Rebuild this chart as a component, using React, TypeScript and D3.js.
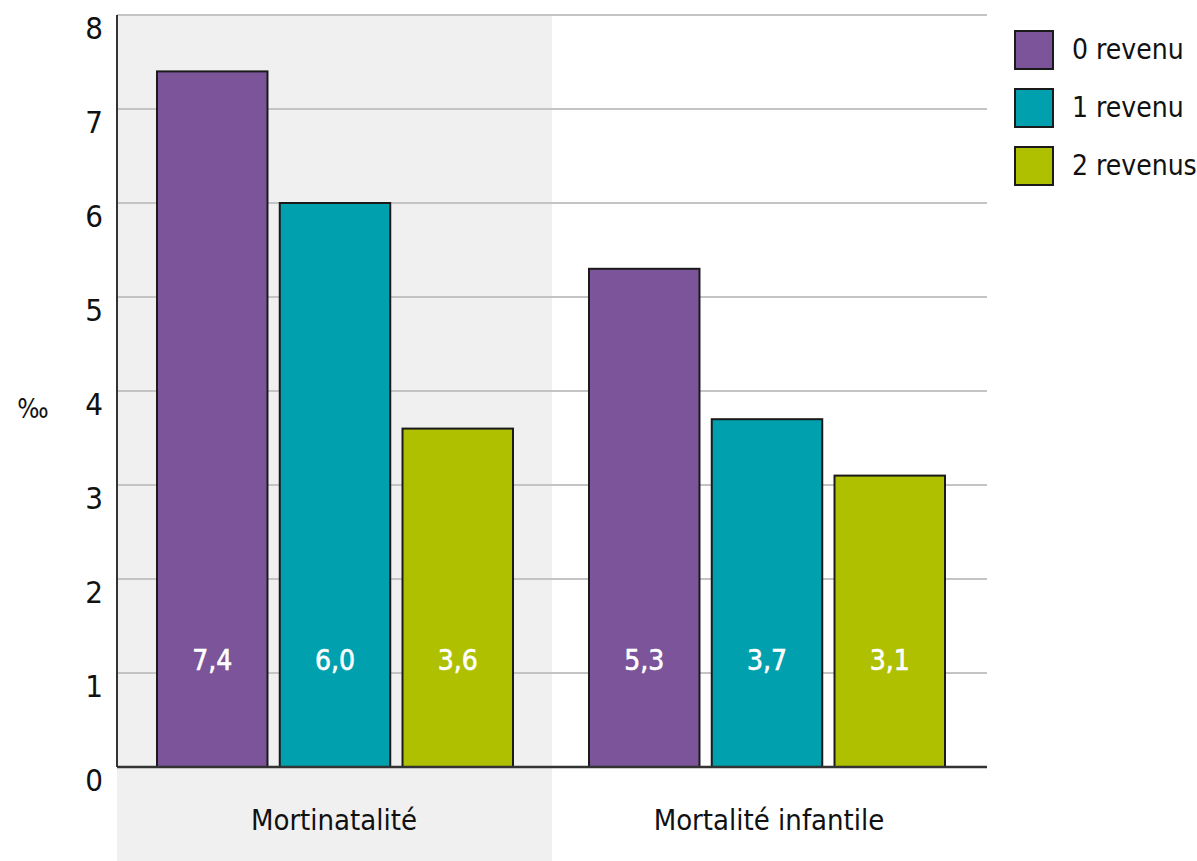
import React from "react";
import * as d3 from "d3";

const categories = ["Mortinatalité", "Mortalité infantile"];
const series = ["0 revenu", "1 revenu", "2 revenus"];
const values = [
  [7.4, 6.0, 3.6],
  [5.3, 3.7, 3.1],
];
const yTicks = [0, 1, 2, 3, 4, 5, 6, 7, 8];
const colors = ["#7B5499", "#00A0AE", "#AEC000"];

const W = 1197;
const H = 861;
const m = { left: 117, right: 987, top: 15, bottom: 767 };
const FONT = "'Liberation Sans Narrow', 'DejaVu Sans Condensed', 'Roboto Condensed', sans-serif";

export default function App() {
  const y = d3.scaleLinear().domain([0, 8]).range([m.bottom, m.top]);
  const x1 = d3.scaleBand<string>().domain(series).range([40, 40 + 356]).paddingInner(0.1).paddingOuter(0);
  const fmt = (v: number) => v.toFixed(1).replace(".", ",");

  return (
    <svg width={W} height={H} style={{ position: "absolute", left: 0, top: 0, background: "#fff" }}>
      <rect x={m.left} y={m.top} width={435} height={H - m.top} fill="#F0F0F0" />
      {yTicks.map((t) => (
        <line key={t} x1={m.left} x2={m.right} y1={y(t)} y2={y(t)} stroke="#C4C4C4" strokeWidth={2} />
      ))}
      {categories.map((c, ci) => (
        <g key={c} transform={`translate(${ci === 0 ? m.left : 549},0)`}>
          {series.map((s, si) => {
            const v = values[ci][si];
            const bx = x1(s)!;
            const bw = x1.bandwidth();
            return (
              <g key={s}>
                <rect x={bx} y={y(v)} width={bw} height={y(0) - y(v)} fill={colors[si]} stroke="#1a1a1a" strokeWidth={2} />
                <text x={bx + bw / 2} y={y(1) - 11} fill="#fff" fontSize={28} fontFamily={FONT} textAnchor="middle" dominantBaseline="middle" stroke="#fff" strokeWidth={0.6}>
                  {fmt(v)}
                </text>
              </g>
            );
          })}
        </g>
      ))}
      <line x1={m.left} x2={m.left} y1={m.top} y2={m.bottom} stroke="#333" strokeWidth={2} />
      <line x1={m.left} x2={m.right} y1={m.bottom} y2={m.bottom} stroke="#333" strokeWidth={2.5} />
      {yTicks.map((t) => (
        <text key={t} x={103} y={y(t) + 15} fontSize={31} fontFamily={FONT} textAnchor="end" fill="#111" dominantBaseline="middle">
          {t}
        </text>
      ))}
      <text x={33} y={410} fontSize={26} fontFamily={FONT} textAnchor="middle" fill="#111" dominantBaseline="middle">‰</text>
      {categories.map((c, ci) => (
        <text key={c} x={ci === 0 ? 334 : 769} y={822} fontSize={29} fontFamily={FONT} textAnchor="middle" fill="#111" dominantBaseline="middle">
          {c}
        </text>
      ))}
      {series.map((s, si) => (
        <g key={s} transform={`translate(1015,${31 + si * 58})`}>
          <rect width={38} height={38} fill={colors[si]} stroke="#1a1a1a" strokeWidth={2} />
          <text x={57} y={20} fontSize={28} fontFamily={FONT} fill="#111" dominantBaseline="middle">{s}</text>
        </g>
      ))}
    </svg>
  );
}
